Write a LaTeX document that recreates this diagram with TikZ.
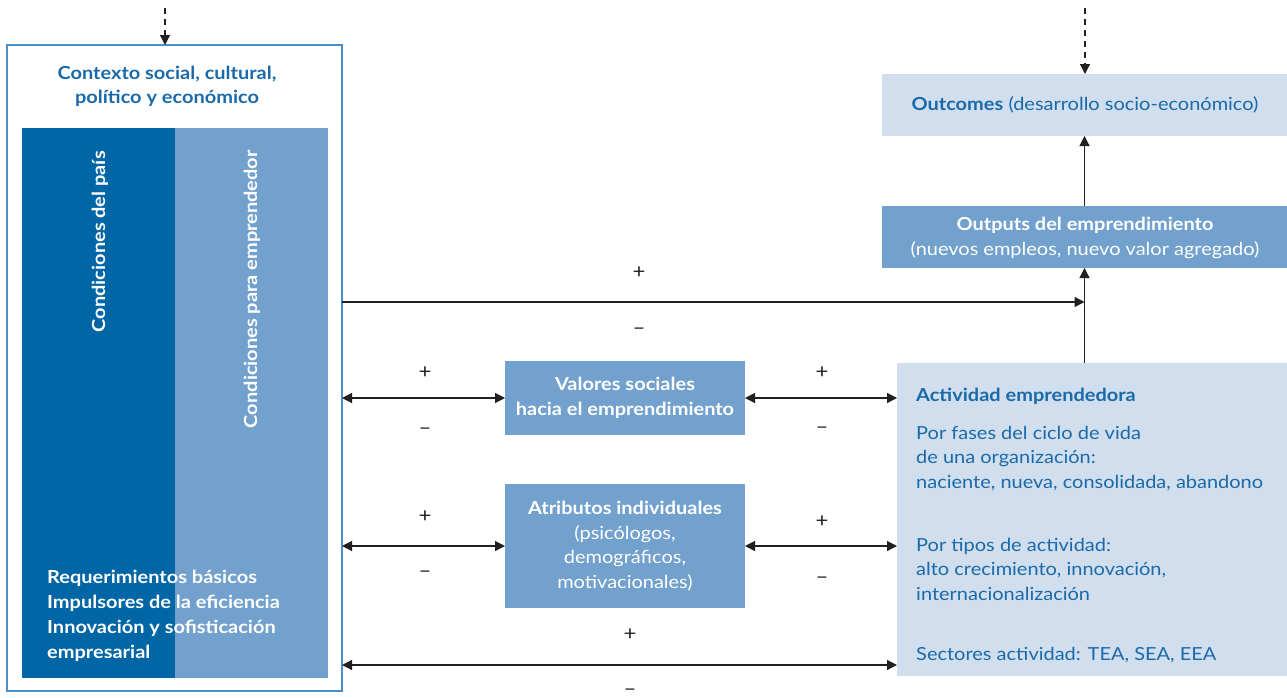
\documentclass[tikz,border=0pt]{standalone}
\usepackage{fontspec}
\setmainfont{Lato}[FakeStretch=1.11]
\usetikzlibrary{arrows.meta}
\definecolor{dkblue}{HTML}{0066A6}
\definecolor{mdblue}{HTML}{72A1CD}
\definecolor{ltblue}{HTML}{D1DEEE}
\definecolor{txblue}{HTML}{1A6AAA}
\definecolor{brdblue}{HTML}{4A90C8}
\definecolor{arr}{HTML}{231F20}
\begin{document}
\begin{tikzpicture}[x=1pt,y=-1pt,
  box/.style={inner sep=0pt, outer sep=0pt, anchor=north west, draw=none},
  txt/.style={font=\fontsize{18}{24.5}\selectfont, inner sep=0pt},
  conn/.style={draw=arr, line width=1.2pt, -{Triangle[length=10pt,width=10pt]}},
  dconn/.style={draw=arr, line width=1.2pt, {Triangle[length=10pt,width=10pt]}-{Triangle[length=10pt,width=10pt]}},
  dashconn/.style={conn, dash pattern=on 6pt off 5pt},
  sign/.style={font=\fontsize{20}{20}\selectfont, text=arr, inner sep=0pt}]
\useasboundingbox (0,0) rectangle (1287,697);

% left context box
\node[box, draw=brdblue, line width=1.5pt, minimum width=335pt, minimum height=646pt] (ctx) at (7,45) {};
\node[txt, font=\fontsize{18}{24}\selectfont\bfseries, text=txblue, align=center, anchor=base] (ctxt) at (167,103) {Contexto social, cultural,\\político y económico};
\node[box, fill=dkblue, minimum width=153pt, minimum height=550pt] (cpais) at (22,128) {};
\node[box, fill=mdblue, minimum width=153pt, minimum height=550pt] (cemp) at (175,128) {};
\node[txt, rotate=90, anchor=east, text=white, font=\fontsize{18}{20}\selectfont\bfseries] (cpaist) at (100,151) {Condiciones del país};
\node[txt, rotate=90, anchor=east, text=white, font=\fontsize{18}{20}\selectfont\bfseries] (cempt) at (252,150) {Condiciones para emprendedor};
\node[txt, anchor=base west, align=left, text=white, font=\fontsize{18}{25}\selectfont\bfseries] (req) at (47,658) {Requerimientos básicos\\Impulsores de la eficiencia\\Innovación y sofisticación\\empresarial};

% right boxes
\node[box, fill=ltblue, minimum width=405pt, minimum height=62pt] (outc) at (882,74) {};
\node[txt, text=txblue, anchor=base] (outct) at (1085,110) {\textbf{Outcomes} (desarrollo socio-económico)};
\node[box, fill=mdblue, minimum width=405pt, minimum height=62pt] (outp) at (882,206) {};
\node[txt, text=white, align=center, anchor=base] (outpt) at (1085,255) {\textbf{Outputs del emprendimiento}\\(nuevos empleos, nuevo valor agregado)};
\node[box, fill=ltblue, minimum width=390pt, minimum height=313pt] (act) at (897,363) {};
\node[txt, text=txblue, anchor=base west, font=\fontsize{18}{24.5}\selectfont\bfseries] (act1) at (916,401) {Actividad emprendedora};
\node[txt, text=txblue, anchor=base west, align=left] (act2) at (916,488) {Por fases del ciclo de vida\\de una organización:\\naciente, nueva, consolidada, abandono};
\node[txt, text=txblue, anchor=base west, align=left] (act3) at (916,600) {Por tipos de actividad:\\alto crecimiento, innovación,\\internacionalización};
\node[txt, text=txblue, anchor=base west] (act4) at (916,660) {Sectores actividad: TEA, SEA, EEA};

% middle boxes
\node[box, fill=mdblue, minimum width=240pt, minimum height=74pt] (val) at (505,361) {};
\node[txt, text=white, align=center, anchor=base, font=\fontsize{18}{24.5}\selectfont\bfseries] (valt) at (625,415) {Valores sociales\\hacia el emprendimiento};
\node[box, fill=mdblue, minimum width=240pt, minimum height=124pt] (atr) at (505,484) {};
\node[txt, text=white, align=center, anchor=base] (atrt) at (625,588) {\textbf{Atributos individuales}\\(psicólogos,\\demográficos,\\motivacionales)};

% connectors
\coordinate (topL) at (165,8);
\coordinate (topR) at (1085,8);
\coordinate (hl) at (0,302);
\coordinate (bl) at (0,665);
\draw[dashconn] (topL) -- (topL |- ctx.north);
\draw[dashconn] (topR) -- (topR |- outc.north);
\draw[conn] (outp.north) -- (outc.south);
\draw[conn] (outp.south |- act.north) -- (outp.south);
\draw[conn] (ctx.east |- hl) -- (outp.south |- hl);
\draw[dconn] (ctx.east |- val.west) -- (val.west);
\draw[dconn] (val.east) -- (act.west |- val.east);
\draw[dconn] (ctx.east |- atr.west) -- (atr.west);
\draw[dconn] (atr.east) -- (act.west |- atr.east);
\draw[dconn] (ctx.east |- bl) -- (act.west |- bl);

% signs
\node[sign] (p0) at (639,273) {+};
\node[sign] (m0) at (639,331) {–};
\node[sign] (p1) at (425,373) {+};
\node[sign] (m1) at (425,431) {–};
\node[sign] (p2) at (822,373) {+};
\node[sign] (m2) at (822,430) {–};
\node[sign] (p3) at (425,517) {+};
\node[sign] (m3) at (425,574) {–};
\node[sign] (p4) at (822,522) {+};
\node[sign] (m4) at (822,580) {–};
\node[sign] (p5) at (630,635) {+};
\node[sign] (m5) at (630,692) {–};
\end{tikzpicture}
\end{document}
